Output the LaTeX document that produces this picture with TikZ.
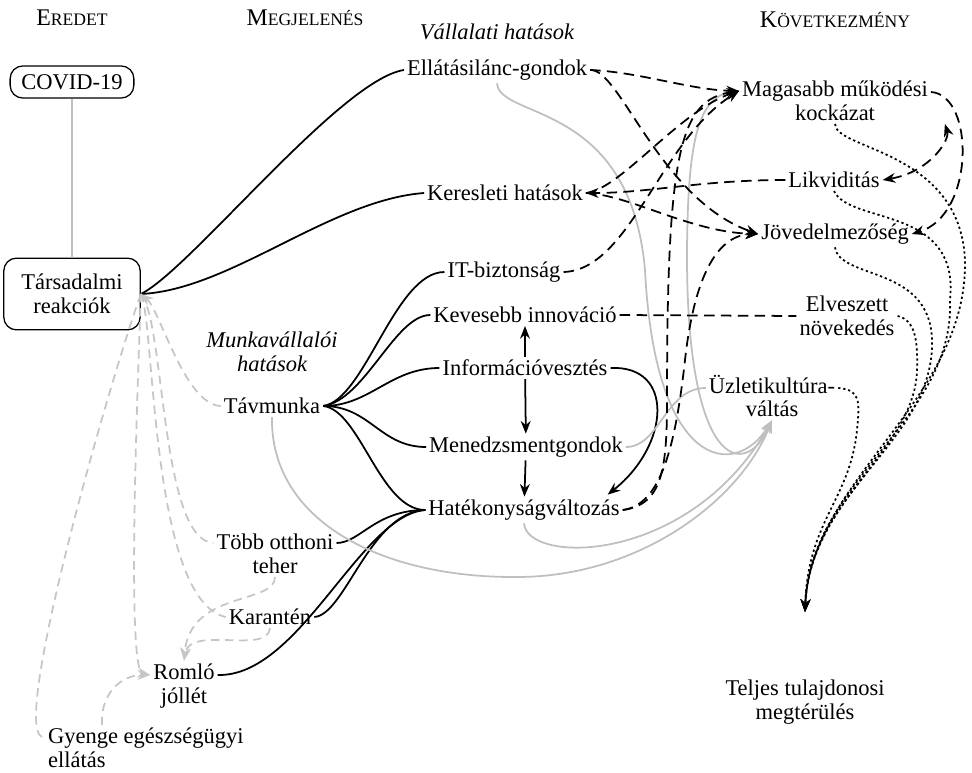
\documentclass[tikz,border=0pt]{standalone}
\usepackage{fontspec}
\setmainfont{Liberation Serif}
\usepackage{tikz}
\usetikzlibrary{arrows.meta, calc}

\newcommand{\fakesc}[2]{#1{\fontsize{12.5}{13}\selectfont#2}}

\begin{document}
\begin{tikzpicture}[
    x=0.025cm, y=-0.025cm,
    every node/.style={font=\fontsize{16}{17}\selectfont},
    lbl/.style={inner sep=2pt, align=center},
    box/.style={draw, line width=0.9pt, rounded corners=9pt, align=center, inner xsep=8pt, inner ysep=6pt},
    colhead/.style={font=\fontsize{17}{18}\selectfont},
    grouplbl/.style={align=center, font=\fontsize{16}{17}\selectfont\itshape},
    link/.style={line width=1.25pt},
    tip/.style={-{Stealth[length=9pt, width=7pt]}},
    tips/.style={{Stealth[length=9pt, width=7pt]}-{Stealth[length=9pt, width=7pt]}},
    arrow/.style={link, tip},
    dashlink/.style={link, dash pattern=on 7.5pt off 4.5pt},
    dotlink/.style={link, dash pattern=on 1.6pt off 2pt},
    softlink/.style={link, gray!50},
    softdash/.style={link, gray!45, dash pattern=on 6pt off 4pt}
]
\useasboundingbox (0,0) rectangle (972,773);

% column heads
\node[colhead] (hEredet) at (72,18) {\fakesc{E}{REDET}};
\node[colhead] (hMegj) at (305,18) {\fakesc{M}{EGJELENÉS}};
\node[colhead] (hKov) at (835,20) {\fakesc{K}{ÖVETKEZMÉNY}};
\node[grouplbl] (gVallalati) at (497,32) {Vállalati hatások};
\node[grouplbl] (gMunka) at (272,352) {Munkavállalói\\hatások};

% origin
\node[box] (covid) at (72,82) {COVID-19};
\node[box, minimum width=97pt, minimum height=51pt] (tars) at (72,294) {Társadalmi\\reakciók};

% appearance
\node[lbl] (ellatas) at (497,70) {Ellátásilánc-gondok};
\node[lbl] (kereslet) at (505,193) {Keresleti hatások};
\node[lbl] (itbizt) at (504,272) {IT-biztonság};
\node[lbl] (innov) at (525,315) {Kevesebb innováció};
\node[lbl] (infovesz) at (525,368) {Információvesztés};
\node[lbl] (menedzs) at (526,447) {Menedzsmentgondok};
\node[lbl] (hatekony) at (524,510) {Hatékonyságváltozás};
\node[lbl] (tavmunka) at (272,406) {Távmunka};
\node[lbl] (otthoni) at (275,554) {Több otthoni\\teher};
\node[lbl] (karanten) at (270,617) {Karantén};
\node[lbl] (romlo) at (184,686) {Romló\\jóllét};
\node[lbl, align=left, anchor=west] (gyenge) at (45,748) {Gyenge egészségügyi\\ellátás};

% consequences
\node[lbl] (magasabb) at (835,101) {Magasabb működési\\kockázat};
\node[lbl] (likvid) at (834,180) {Likviditás};
\node[lbl] (jovedelem) at (835,234) {Jövedelmezőség};
\node[lbl] (elveszett) at (847,316) {Elveszett\\növekedés};
\node[lbl] (uzleti) at (772,396) {Üzletikultúra-\\váltás};
\node[lbl] (teljes) at (805,702) {Teljes tulajdonosi\\megtérülés};
\coordinate (tjIn) at (805,612);

% origin links
\draw[softlink] (covid) -- (tars);
\draw[link] (tars.east) .. controls (190,270) and (340,80) .. (ellatas.west);
\draw[link] (tars.east) .. controls (230,290) and (330,200) .. (kereslet.west);

% remote work fan
\draw[link] (tavmunka.east) .. controls (365,400) and (395,272) .. (itbizt.west);
\draw[link] (tavmunka.east) .. controls (365,400) and (395,315) .. (innov.west);
\draw[link] (tavmunka.east) .. controls (370,406) and (390,368) .. (infovesz.west);
\draw[link] (tavmunka.east) .. controls (370,406) and (380,447) .. (menedzs.west);
\draw[link] (tavmunka.east) .. controls (360,410) and (380,510) .. (hatekony.west);

% into efficiency
\draw[link] ($(otthoni.east)+(0,-11)$) .. controls (360,543) and (375,510) .. (hatekony.west);
\draw[link] (karanten.east) .. controls (345,615) and (370,512) .. (hatekony.west);
\draw[link] ($(romlo.east)+(0,-11)$) .. controls (300,677) and (360,515) .. (hatekony.west);

\draw[arrow] (infovesz) -- (innov);
\draw[arrow] (infovesz) -- (menedzs);
\draw[arrow] (menedzs) -- (hatekony);
\draw[arrow] (infovesz.east) .. controls (675,365) and (670,445) .. ($(hatekony.north east)+(-15,-2)$);

% culture change (gray)
\draw[softlink, tip] (ellatas.south) .. controls (500,120) and (630,100) .. (645,270) .. controls (655,470) and (735,480) .. (uzleti.south);
\draw[softlink, tip] ($(magasabb.west)+(0,-10)$) .. controls (700,92) and (688,130) .. (687,250) .. controls (686,470) and (745,480) .. (uzleti.south);
\draw[softlink, tip] (hatekony.south) .. controls (527,565) and (690,565) .. (uzleti.south);
\draw[softlink, tip] (tavmunka.south) .. controls (270,520) and (380,578) .. (517,577) .. controls (640,577) and (740,500) .. (uzleti.south);
\draw[softlink] (menedzs.east) .. controls (660,447) and (665,388) .. ($(uzleti.west)+(0,-8)$);

% employee side (gray dashed)
\draw[softdash, tip] (tavmunka.west) .. controls (185,405) and (160,310) .. (tars.east);
\draw[softdash] (tars.east) .. controls (165,320) and (160,540) .. ($(otthoni.west)+(0,-11)$);
\draw[softdash] (tars.east) .. controls (155,320) and (150,600) .. (karanten.west);
\draw[softdash, tip] (tars.east) .. controls (140,330) and (125,670) .. ($(romlo.west)+(0,-11)$);
\draw[softdash] (tars.east) .. controls (110,380) and (5,745) .. ($(gyenge.west)+(0,-11)$);
\draw[softdash, tip] (otthoni.south) .. controls (275,605) and (190,590) .. (romlo.north);
\draw[softdash, tip] (karanten.south) .. controls (268,655) and (190,625) .. (romlo.north);
\draw[softdash, tip] ($(gyenge.north west)+(57,0)$) .. controls (100,695) and (120,675) .. ($(romlo.west)+(0,-11)$);

% company side (black dashed)
\draw[dashlink, tip] (ellatas.east) .. controls (640,72) and (690,90) .. ($(magasabb.west)+(0,-10)$);
\draw[dashlink, tip] (ellatas.east) .. controls (620,68) and (660,200) .. (jovedelem.west);
\draw[dashlink, tip] (likvid.west) .. controls (700,180) and (650,193) .. (kereslet.east);
\draw[dashlink, tip] (kereslet.east) .. controls (620,190) and (680,110) .. ($(magasabb.west)+(0,-10)$);
\draw[dashlink, tip] (kereslet.east) .. controls (630,195) and (690,232) .. (jovedelem.west);
\draw[dashlink, tip] (itbizt.east) .. controls (630,270) and (660,140) .. ($(magasabb.west)+(0,-10)$);
\draw[dashlink] (innov.east) -- (elveszett.west);
\draw[dashlink, tip] (hatekony.east) .. controls (662,505) and (667,470) .. (667,400) .. controls (667,150) and (680,100) .. ($(magasabb.west)+(0,-10)$);
\draw[dashlink, tip] (hatekony.east) .. controls (660,505) and (675,450) .. (685,360) .. controls (695,270) and (720,235) .. (jovedelem.west);
\draw[dashlink, tip] ($(magasabb.east)+(0,-9)$) .. controls (975,95) and (975,215) .. (jovedelem.east);
\draw[dashlink, tips] ($(magasabb.south east)+(14,0)$) .. controls (950,140) and (930,172) .. (likvid.east);

% shareholder return (dotted)
\draw[dotlink, tip] (magasabb.south) .. controls (835,150) and (960,150) .. (965,260) .. controls (968,400) and (810,480) .. (tjIn);
\draw[dotlink, tip] (likvid.south) .. controls (850,225) and (960,205) .. (950,300) .. controls (955,420) and (810,480) .. (tjIn);
\draw[dotlink, tip] (jovedelem.south) .. controls (840,280) and (930,265) .. (932,340) .. controls (935,440) and (810,490) .. (tjIn);
\draw[dotlink, tip] (elveszett.east) .. controls (915,320) and (918,340) .. (917,370) .. controls (915,450) and (810,500) .. (tjIn);
\draw[dotlink, tip] ($(uzleti.east)+(0,-8)$) .. controls (860,390) and (860,400) .. (857,430) .. controls (850,500) and (808,520) .. (tjIn);

\end{tikzpicture}
\end{document}
